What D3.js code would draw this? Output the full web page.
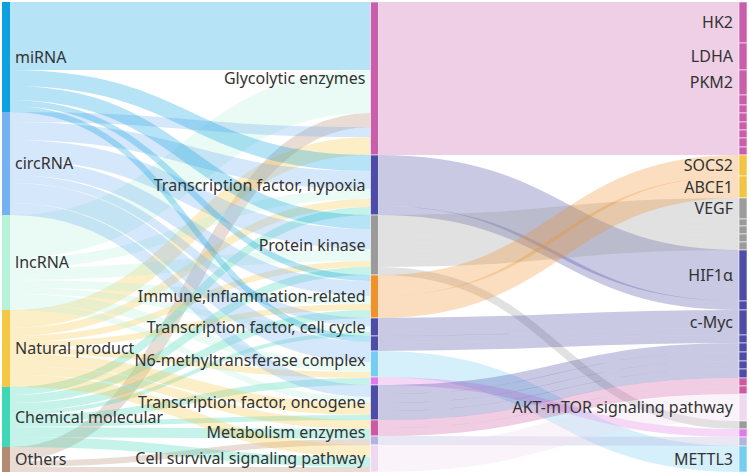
<!DOCTYPE html>
<html>
<head>
<meta charset="utf-8">
<script src="https://cdn.jsdelivr.net/npm/d3@7"></script>
<style>
  body { margin: 0; background: #fff; }
  svg { display: block; font-family: "Noto Sans", "Open Sans", sans-serif; }
  .label { font-size: 16px; fill: #333; }
</style>
</head>
<body>
<div id="chart"></div>
<script>
// ── Data ───────────────────────────────────────────────────────────────
const sources = ["miRNA", "circRNA", "lncRNA", "Natural product", "Chemical molecular", "Others"];

const categories = [
  "Glycolytic enzymes",
  "Transcription factor, hypoxia",
  "Protein kinase",
  "Immune,inflammation-related",
  "Transcription factor, cell cycle",
  "N6-methyltransferase complex",
  "Transcription factor, oncogene",
  "Metabolism enzymes",
  "Cell survival signaling pathway",
];

// right column, top to bottom (unlabelled small targets get placeholder ids)
const targets = [
  "HK2", "LDHA", "PKM2", "GE4", "GE5", "GE6", "GE7", "GE8", "GE9", "GE10",
  "SOCS2", "ABCE1",
  "VEGF", "PK2", "PK3", "PK4", "PK5",
  "HIF1α", "HY2",
  "c-Myc", "TF2", "TF3", "TF4", "TF5", "TF6",
  "ME1", "ME2",
  "AKT-mTOR signaling pathway",
  "PK6", "N62", "ME3",
  "METTL3",
];

const targetLabels = ["HK2", "LDHA", "PKM2", "SOCS2", "ABCE1", "VEGF", "HIF1α", "c-Myc",
  "AKT-mTOR signaling pathway", "METTL3"];

// source -> category (grouped by category, in stacking order)
const toMiddle = [
  ["miRNA", "Glycolytic enzymes", 68],
  ["lncRNA", "Glycolytic enzymes", 43],
  ["Others", "Glycolytic enzymes", 14],
  ["circRNA", "Glycolytic enzymes", 10],
  ["Natural product", "Glycolytic enzymes", 18],

  ["miRNA", "Transcription factor, hypoxia", 16],
  ["circRNA", "Transcription factor, hypoxia", 18],
  ["lncRNA", "Transcription factor, hypoxia", 10],
  ["Natural product", "Transcription factor, hypoxia", 8],
  ["Chemical molecular", "Transcription factor, hypoxia", 8],

  ["miRNA", "Protein kinase", 14],
  ["circRNA", "Protein kinase", 20],
  ["lncRNA", "Protein kinase", 12],
  ["Natural product", "Protein kinase", 6],
  ["Chemical molecular", "Protein kinase", 8],

  ["miRNA", "Immune,inflammation-related", 6],
  ["circRNA", "Immune,inflammation-related", 15],
  ["lncRNA", "Immune,inflammation-related", 8],
  ["Natural product", "Immune,inflammation-related", 6],
  ["Chemical molecular", "Immune,inflammation-related", 8],

  ["circRNA", "Transcription factor, cell cycle", 8],
  ["lncRNA", "Transcription factor, cell cycle", 6],
  ["Chemical molecular", "Transcription factor, cell cycle", 4],

  ["miRNA", "N6-methyltransferase complex", 6],
  ["circRNA", "N6-methyltransferase complex", 20],
  ["lncRNA", "N6-methyltransferase complex", 10],
  ["Natural product", "N6-methyltransferase complex", 6],
  ["Chemical molecular", "N6-methyltransferase complex", 7],

  ["circRNA", "Transcription factor, oncogene", 12],
  ["lncRNA", "Transcription factor, oncogene", 6],
  ["Natural product", "Transcription factor, oncogene", 12],
  ["Chemical molecular", "Transcription factor, oncogene", 5],

  ["Natural product", "Metabolism enzymes", 9],
  ["Chemical molecular", "Metabolism enzymes", 10],
  ["Others", "Metabolism enzymes", 6],

  ["Natural product", "Cell survival signaling pathway", 12],
  ["Chemical molecular", "Cell survival signaling pathway", 10],
  ["Others", "Cell survival signaling pathway", 5],
];

// category -> target
const toRight = [
  ["Glycolytic enzymes", "HK2", 41],
  ["Glycolytic enzymes", "LDHA", 27],
  ["Glycolytic enzymes", "PKM2", 25],
  ["Glycolytic enzymes", "GE4", 10],
  ["Glycolytic enzymes", "GE5", 8],
  ["Glycolytic enzymes", "GE6", 9],
  ["Glycolytic enzymes", "GE7", 8],
  ["Glycolytic enzymes", "GE8", 8],
  ["Glycolytic enzymes", "GE9", 9],
  ["Glycolytic enzymes", "GE10", 8],

  ["Transcription factor, hypoxia", "HIF1α", 51],
  ["Transcription factor, hypoxia", "HY2", 9],

  ["Protein kinase", "VEGF", 21],
  ["Protein kinase", "PK2", 7],
  ["Protein kinase", "PK3", 8],
  ["Protein kinase", "PK4", 8],
  ["Protein kinase", "PK5", 8],
  ["Protein kinase", "PK6", 8],

  ["Immune,inflammation-related", "SOCS2", 21],
  ["Immune,inflammation-related", "ABCE1", 22],

  ["Transcription factor, cell cycle", "c-Myc", 18],

  ["N6-methyltransferase complex", "c-Myc", 7],
  ["N6-methyltransferase complex", "TF2", 8],
  ["N6-methyltransferase complex", "METTL3", 26],
  ["N6-methyltransferase complex", "N62", 8],

  ["Transcription factor, oncogene", "TF3", 9],
  ["Transcription factor, oncogene", "TF4", 9],
  ["Transcription factor, oncogene", "TF5", 8],
  ["Transcription factor, oncogene", "TF6", 9],

  ["Metabolism enzymes", "ME1", 8],
  ["Metabolism enzymes", "ME2", 8],
  ["Metabolism enzymes", "ME3", 9],

  ["Cell survival signaling pathway", "AKT-mTOR signaling pathway", 27],
];

// ── Colours ────────────────────────────────────────────────────────────
const nodeColour = {
  "miRNA": "#0ca2e0",
  "circRNA": "#74b1f2",
  "lncRNA": "#b6f3da",
  "Natural product": "#f6c744",
  "Chemical molecular": "#3fd8b6",
  "Others": "#b38b72",
};
["HK2", "LDHA", "PKM2", "GE4", "GE5", "GE6", "GE7", "GE8", "GE9", "GE10"]
  .forEach((n) => (nodeColour[n] = "#c95fab"));
["SOCS2", "ABCE1"].forEach((n) => (nodeColour[n] = "#f2c443"));
["VEGF", "PK2", "PK3", "PK4", "PK5", "PK6"].forEach((n) => (nodeColour[n] = "#9b9b9b"));
["HIF1α", "HY2", "c-Myc", "TF2", "TF3", "TF4", "TF5", "TF6"]
  .forEach((n) => (nodeColour[n] = "#4d4ca6"));
["ME1", "ME2"].forEach((n) => (nodeColour[n] = "#cd5aa0"));
nodeColour["AKT-mTOR signaling pathway"] = "#efd9ee";
nodeColour["N62"] = "#e07ae8";
nodeColour["ME3"] = "#b3b3de";
nodeColour["METTL3"] = "#76cdf2";

// middle nodes whose outgoing bands keep their own colour
const segmentColour = { "Immune,inflammation-related": "#f0922c" };

// ── Layout (hand-rolled sankey) ────────────────────────────────────────
const W = 749, H = 474, nodeW = 8;
const columns = [sources, categories, targets];

const nodeByName = new Map();
columns.forEach((names, col) =>
  names.forEach((name) => nodeByName.set(name, { name, col, ins: [], outs: [] })),
);

const links = [...toMiddle, ...toRight].map(([s, t, v]) => ({
  source: nodeByName.get(s),
  target: nodeByName.get(t),
  value: v,
}));
links.forEach((l) => {
  l.source.outs.push(l);
  l.target.ins.push(l);
});
nodeByName.forEach((n) => {
  n.value = Math.max(d3.sum(n.ins, (l) => l.value), d3.sum(n.outs, (l) => l.value));
});

const total = d3.max(columns, (names) => d3.sum(names, (n) => nodeByName.get(n).value));
const y = d3.scaleLinear().domain([0, total]).range([2, 472]);
const x = d3.scalePoint().domain(d3.range(columns.length)).range([2, W - 2 - nodeW]);

columns.forEach((names, col) => {
  let acc = 0;
  names.forEach((name) => {
    const n = nodeByName.get(name);
    n.x0 = x(col);
    n.x1 = n.x0 + nodeW;
    n.y0 = y(acc);
    let a = acc, b = acc;
    n.outs.forEach((l) => { l.sv = a; a += l.value; });
    n.ins.forEach((l) => { l.tv = b; b += l.value; });
    acc += n.value;
    n.y1 = y(acc);
  });
});

const bandColour = (l) =>
  l.source.col === 0
    ? nodeColour[l.source.name]
    : segmentColour[l.source.name] || nodeColour[l.target.name];

// ── SVG ────────────────────────────────────────────────────────────────
const svg = d3.select("#chart").append("svg").attr("width", W).attr("height", H);

// ── Links ──────────────────────────────────────────────────────────────
const linkPath = d3.linkHorizontal();
svg.append("g")
  .attr("fill", "none")
  .selectAll("path")
  .data(links)
  .join("path")
  .attr("d", (l) =>
    linkPath({
      source: [l.source.x1, y(l.sv + l.value / 2)],
      target: [l.target.x0, y(l.tv + l.value / 2)],
    }),
  )
  .attr("stroke", bandColour)
  .attr("stroke-opacity", 0.3)
  .attr("stroke-width", (l) => y(l.value) - y(0));

// ── Nodes ──────────────────────────────────────────────────────────────
const nodeG = svg.append("g");

// left + right columns: plain bars
nodeG.selectAll("rect.node")
  .data([...sources, ...targets].map((n) => nodeByName.get(n)))
  .join("rect")
  .attr("class", "node")
  .attr("x", (n) => n.x0)
  .attr("y", (n) => n.y0)
  .attr("width", nodeW)
  .attr("height", (n) => n.y1 - n.y0)
  .attr("fill", (n) => nodeColour[n.name])
  .attr("stroke", "#fff")
  .attr("stroke-opacity", (n) => (n.col === 2 ? 0.7 : 0))
  .attr("stroke-width", 0.8);

// middle column: one segment per run of same-coloured outgoing bands
const segments = [];
categories.forEach((name) => {
  const n = nodeByName.get(name);
  n.outs.forEach((l) => {
    const c = bandColour(l);
    const last = segments[segments.length - 1];
    if (last && last.node === n && last.colour === c) last.v1 = l.sv + l.value;
    else segments.push({ node: n, colour: c, v0: l.sv, v1: l.sv + l.value });
  });
});

nodeG.selectAll("rect.seg")
  .data(segments)
  .join("rect")
  .attr("class", "seg")
  .attr("x", (s) => s.node.x0)
  .attr("y", (s) => y(s.v0))
  .attr("width", nodeW)
  .attr("height", (s) => y(s.v1) - y(s.v0))
  .attr("fill", (s) => s.colour)
  .attr("stroke", "#fff")
  .attr("stroke-opacity", 0.7)
  .attr("stroke-width", 0.8);

// ── Labels ─────────────────────────────────────────────────────────────
const labelG = svg.append("g").attr("class", "label");

labelG.selectAll("text.left")
  .data(sources.map((n) => nodeByName.get(n)))
  .join("text")
  .attr("x", (n) => n.x1 + 5)
  .attr("y", (n) => (n.y0 + n.y1) / 2)
  .attr("dy", "0.35em")
  .attr("text-anchor", "start")
  .text((n) => n.name);

labelG.selectAll("text.mid")
  .data(categories.map((n) => nodeByName.get(n)))
  .join("text")
  .attr("x", (n) => n.x0 - 5)
  .attr("y", (n) => (n.y0 + n.y1) / 2)
  .attr("dy", "0.35em")
  .attr("text-anchor", "end")
  .text((n) => n.name);

labelG.selectAll("text.right")
  .data(targetLabels.map((n) => nodeByName.get(n)))
  .join("text")
  .attr("x", (n) => n.x0 - 6)
  .attr("y", (n) => (n.y0 + n.y1) / 2)
  .attr("dy", "0.35em")
  .attr("text-anchor", "end")
  .text((n) => n.name);
</script>
</body>
</html>
